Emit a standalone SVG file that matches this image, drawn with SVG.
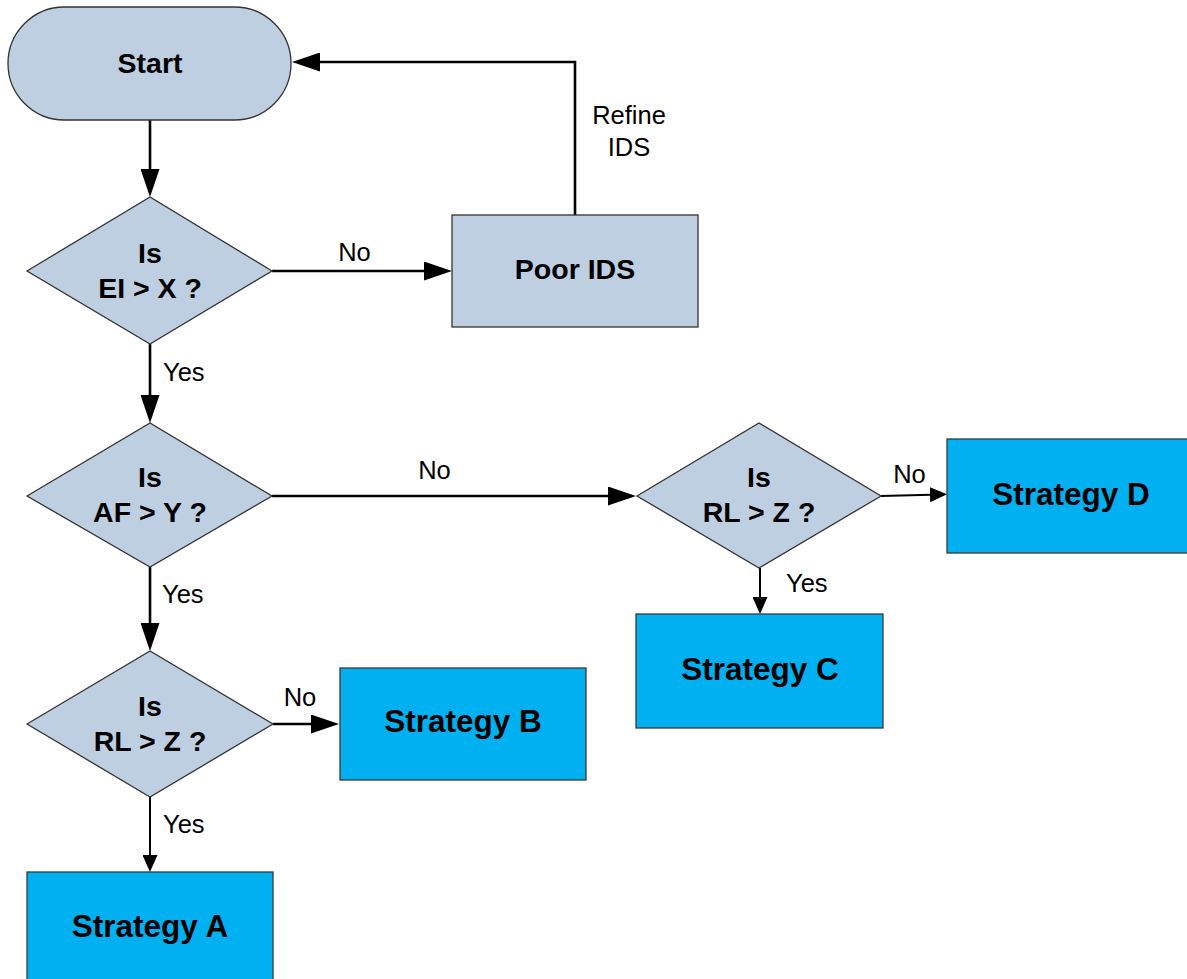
<svg xmlns="http://www.w3.org/2000/svg" width="1187" height="979" viewBox="0 0 1187 979">
  <style>
    .step { fill: #BFCFE2; stroke: #333333; stroke-width: 1.3; }
    .strategy { fill: #00B0F0; stroke: #3a3a3a; stroke-width: 1.3; }
    .node-text { font-family: "Liberation Sans", Arial, sans-serif; font-weight: bold; font-size: 28.5px; fill: #000000; text-anchor: middle; }
    .big-text { font-family: "Liberation Sans", Arial, sans-serif; font-weight: bold; font-size: 31.5px; fill: #000000; text-anchor: middle; }
    .label { font-family: "Liberation Sans", Arial, sans-serif; font-size: 25.5px; fill: #000000; }
    .thick { fill: none; stroke: #000000; stroke-width: 2.6; marker-end: url(#head-lg); }
    .thin { fill: none; stroke: #000000; stroke-width: 2; marker-end: url(#head-sm); }
  </style>
  <defs>
    <!-- large filled arrowhead, tip at x=28 -->
    <marker id="head-lg" markerUnits="userSpaceOnUse" markerWidth="28" markerHeight="19" refX="20" refY="9.5" orient="auto">
      <path d="M0,0 L28,9.5 L0,19 Z" fill="#000000"/>
    </marker>
    <!-- small filled arrowhead, tip at x=17 -->
    <marker id="head-sm" markerUnits="userSpaceOnUse" markerWidth="17" markerHeight="15" refX="11" refY="7.5" orient="auto">
      <path d="M0,0 L17,7.5 L0,15 Z" fill="#000000"/>
    </marker>
  </defs>

  <!-- connectors (lines end 8 / 6 px short of the tip; markers extend to it) -->
  <g id="connectors">
    <path class="thick" d="M150,120 L150,189"/>
    <path class="thick" d="M272,271 L444,271"/>
    <path class="thick" d="M575,215 L575,62 L300,62"/>
    <path class="thick" d="M150,344 L150,415"/>
    <path class="thick" d="M272,496 L628,496"/>
    <path class="thick" d="M150,567 L150,643"/>
    <path class="thick" d="M273,724 L331,724"/>
    <path class="thin" d="M150,797 L150,866"/>
    <path class="thin" d="M881,496 L941,494.5"/>
    <path class="thin" d="M760,568 L760,608"/>

    <text class="label" x="354.5" y="261" text-anchor="middle">No</text>
    <text class="label" x="629" y="124" text-anchor="middle">Refine</text>
    <text class="label" x="629" y="156" text-anchor="middle">IDS</text>
    <text class="label" x="163" y="381">Yes</text>
    <text class="label" x="434.5" y="479" text-anchor="middle">No</text>
    <text class="label" x="162" y="603">Yes</text>
    <text class="label" x="909.5" y="483" text-anchor="middle">No</text>
    <text class="label" x="786" y="592">Yes</text>
    <text class="label" x="300" y="706" text-anchor="middle">No</text>
    <text class="label" x="163" y="833">Yes</text>
  </g>

  <g id="start">
    <rect class="step" x="8" y="7" width="283" height="113" rx="56.5" ry="56.5"/>
    <text class="node-text" x="150" y="73">Start</text>
  </g>

  <g id="check-ei">
    <polygon class="step" points="27,271 150,197 272,271 150,344"/>
    <text class="node-text" x="150" y="263">Is</text>
    <text class="node-text" x="150" y="298">EI &gt; X ?</text>
  </g>

  <g id="poor-ids">
    <rect class="step" x="452" y="215" width="246" height="112"/>
    <text class="node-text" x="575" y="279">Poor IDS</text>
  </g>

  <g id="check-af">
    <polygon class="step" points="27,496 150,423 272,496 150,567"/>
    <text class="node-text" x="150" y="487">Is</text>
    <text class="node-text" x="150" y="522">AF &gt; Y ?</text>
  </g>

  <g id="check-rl-right">
    <polygon class="step" points="637,496 759,423 881,496 759,568"/>
    <text class="node-text" x="759" y="487">Is</text>
    <text class="node-text" x="759" y="522">RL &gt; Z ?</text>
  </g>

  <g id="check-rl-left">
    <polygon class="step" points="27,724 150,651 273,724 150,797"/>
    <text class="node-text" x="150" y="716">Is</text>
    <text class="node-text" x="150" y="751">RL &gt; Z ?</text>
  </g>

  <g id="strategy-a">
    <rect class="strategy" x="27" y="872" width="246" height="115"/>
    <text class="big-text" x="150" y="937">Strategy A</text>
  </g>

  <g id="strategy-b">
    <rect class="strategy" x="340" y="668" width="246" height="112"/>
    <text class="big-text" x="463" y="732">Strategy B</text>
  </g>

  <g id="strategy-c">
    <rect class="strategy" x="636" y="614" width="247" height="114"/>
    <text class="big-text" x="760" y="680">Strategy C</text>
  </g>

  <g id="strategy-d">
    <rect class="strategy" x="947" y="439" width="248" height="114"/>
    <text class="big-text" x="1071" y="505">Strategy D</text>
  </g>
</svg>
